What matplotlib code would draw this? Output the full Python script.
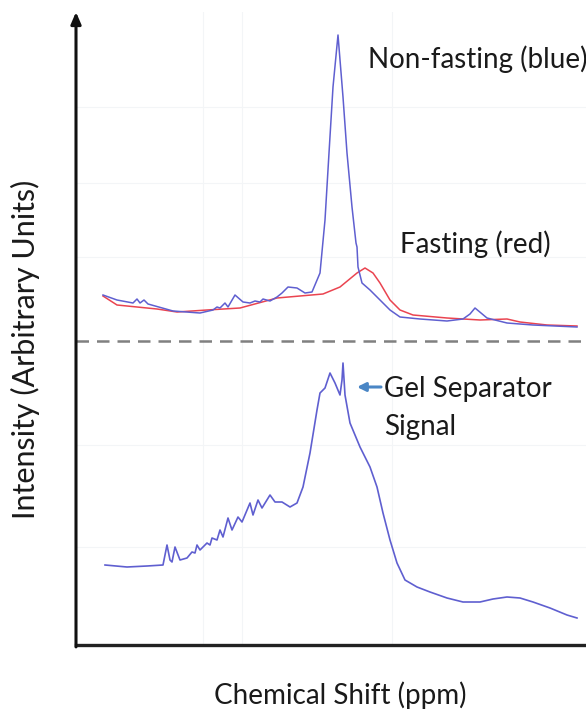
import matplotlib
matplotlib.use("Agg")
import matplotlib.pyplot as plt

plt.rcParams['font.family'] = ['Lato', 'DejaVu Sans']

# Serum spectra (upper trace pair) -- shift position vs. intensity
nonfasting_shift = [27, 41, 57, 61, 64, 68, 72, 97, 124, 137, 141, 144, 149, 152, 159, 167, 174,
                    179, 184, 187, 194, 201, 206, 212, 221, 229, 236, 244, 249, 253, 257, 262,
                    267, 271, 276, 280, 281, 282, 286, 294, 304, 314, 324, 344, 371, 387, 394,
                    399, 405, 411, 431, 457, 501]
nonfasting_int = [350, 345, 342, 346, 342, 345, 341, 334, 332, 335, 338, 337, 342, 338, 350, 343,
                  342, 344, 343, 346, 344, 348, 352, 358, 357, 352, 353, 372, 425, 492, 558, 610,
                  548, 492, 438, 402, 398, 378, 362, 355, 345, 335, 328, 326, 324, 326, 331,
                  337, 332, 327, 322, 320, 318]

fasting_shift = [27, 41, 81, 101, 131, 164, 201, 247, 264, 281, 289, 297, 304, 314, 324, 337,
                 371, 404, 431, 444, 471, 501]
fasting_int = [349, 340, 336, 333, 335, 337, 347, 351, 358, 372, 377, 372, 362, 345, 335, 330,
               327, 325, 326, 323, 320, 319]

# Gel-tube spectrum (lower trace)
gel_shift = [29, 51, 71, 87, 91, 94, 96, 99, 104, 111, 116, 119, 121, 124, 131, 134, 136, 141,
             144, 147, 152, 156, 162, 166, 174, 177, 182, 186, 194, 199, 206, 214, 221, 227,
             234, 241, 244, 249, 254, 259, 264, 266, 267, 269, 274, 284, 294, 301, 307, 314,
             321, 329, 341, 354, 371, 387, 404, 417, 431, 444, 457, 474, 491, 501]
gel_int = [80, 78, 79, 80, 100, 85, 83, 98, 85, 87, 93, 92, 100, 95, 102, 100, 107, 105, 115,
           108, 127, 115, 128, 123, 142, 130, 145, 137, 150, 143, 143, 138, 142, 158, 192, 235,
           252, 257, 272, 262, 250, 265, 282, 250, 222, 198, 178, 158, 132, 105, 82, 65, 58,
           53, 47, 43, 43, 46, 48, 47, 43, 37, 30, 27]

separator_level = 304

W, H = 586, 711
fig = plt.figure(figsize=(W / 100, H / 100), dpi=100)
ax = fig.add_axes([76 / W, 1 - 645 / H, (W - 76) / W, (645 - 12) / H])
ax.set_xlim(0, W - 76)
ax.set_ylim(0, 645 - 12)

# faint background grid
for gx in [127, 166, 316]:
    ax.axvline(gx, color='#f3f5f7', lw=0.8, zorder=0)
for gy in [538, 462, 388, 200, 98]:
    ax.axhline(gy, color='#f3f5f7', lw=0.8, zorder=0)

blue = '#5f5fd0'
red = '#ea4450'
ax.plot(fasting_shift, fasting_int, color=red, lw=1.1, zorder=3)
ax.plot(nonfasting_shift, nonfasting_int, color=blue, lw=1.1, zorder=4)
ax.plot(gel_shift, gel_int, color=blue, lw=1.2, zorder=4)

ax.axhline(separator_level, color='#808080', lw=1.8, dashes=(5, 3.2), zorder=2)

for s in ['top', 'right', 'left']:
    ax.spines[s].set_visible(False)
ax.spines['bottom'].set_linewidth(2.4)
ax.spines['bottom'].set_color('#222222')
ax.set_xticks([])
ax.set_yticks([])

# vertical axis with arrowhead
ax.annotate('', xy=(0, 1.0), xycoords='axes fraction', xytext=(0, -0.003),
            textcoords='axes fraction',
            arrowprops=dict(arrowstyle='-|>,head_length=0.7,head_width=0.3',
                            color='#111111', lw=2.2, shrinkA=0, shrinkB=0),
            annotation_clip=False)

txt = '#1a1a1a'
fs = 20
fig.text(368 / W, 1 - 68 / H, 'Non-fasting (blue)', fontsize=fs, color=txt,
         ha='left', va='baseline')
fig.text(400 / W, 1 - 253 / H, 'Fasting (red)', fontsize=fs, color=txt,
         ha='left', va='baseline')
fig.text(384 / W, 1 - 397 / H, 'Gel Separator', fontsize=fs, color=txt,
         ha='left', va='baseline')
fig.text(384 / W, 1 - 435 / H, 'Signal', fontsize=fs, color=txt,
         ha='left', va='baseline')

ax.annotate('', xy=(281, 258), xytext=(305, 258), xycoords='data',
            arrowprops=dict(arrowstyle='-|>,head_length=0.5,head_width=0.25',
                            color='#4a86c5', lw=2.2, shrinkA=0, shrinkB=0))

fig.text(25 / W, 1 - 349 / H, 'Intensity (Arbitrary Units)', fontsize=22, color=txt,
         rotation=90, ha='center', va='center')
fig.text(340 / W, 1 - 695 / H, 'Chemical Shift (ppm)', fontsize=fs, color=txt,
         ha='center', va='center')

fig.savefig('out.png', dpi=100, facecolor='white')
